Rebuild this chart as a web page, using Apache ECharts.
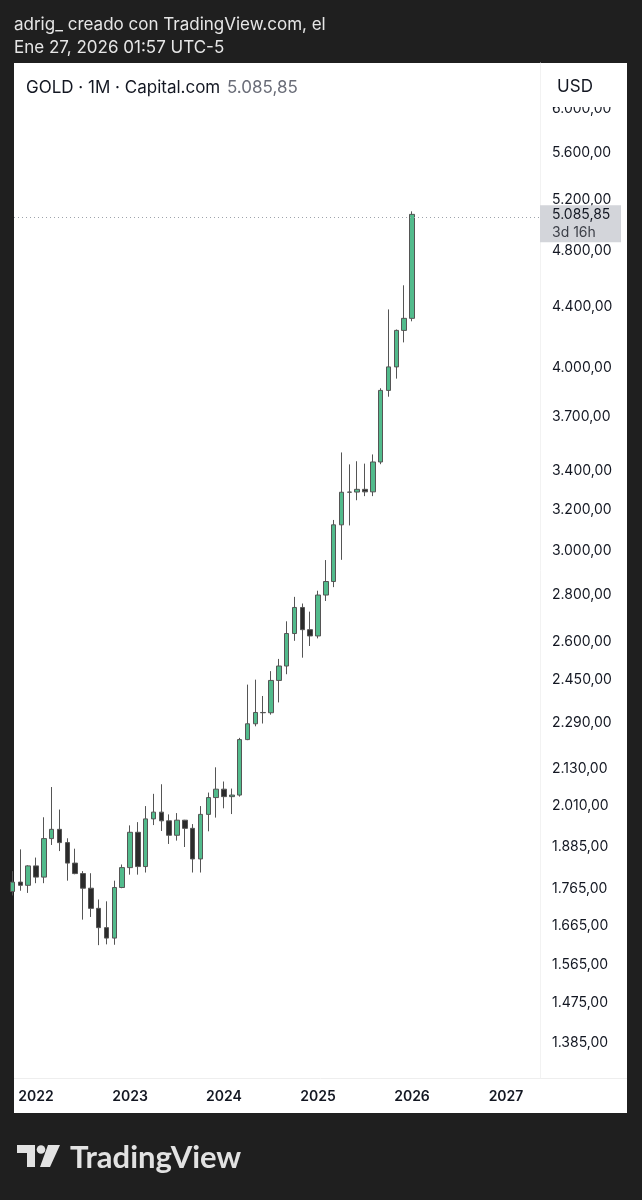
<!DOCTYPE html>
<html><head><meta charset="utf-8">
<script src="https://cdn.jsdelivr.net/npm/echarts@6/dist/echarts.min.js"></script>
<style>html,body{margin:0;padding:0;background:#1f1f1f;}#c{width:642px;height:1200px;}</style>
</head><body><div id="c"></div>
<script>
// ---- data (monthly GOLD candles) ----
const months = ['2021-10','2021-11','2021-12',
  '2022-01','2022-02','2022-03','2022-04','2022-05','2022-06','2022-07','2022-08','2022-09','2022-10','2022-11','2022-12',
  '2023-01','2023-02','2023-03','2023-04','2023-05','2023-06','2023-07','2023-08','2023-09','2023-10','2023-11','2023-12',
  '2024-01','2024-02','2024-03','2024-04','2024-05','2024-06','2024-07','2024-08','2024-09','2024-10','2024-11','2024-12',
  '2025-01','2025-02','2025-03','2025-04','2025-05','2025-06','2025-07','2025-08','2025-09','2025-10','2025-11','2025-12',
  '2026-01'];
const opens  = [1757,1783,1774, 1829,1797,1909,1937,1897,1837,1807,1766,1711,1660,1633,1768,
  1824,1928,1827,1969,1990,1963,1919,1965,1940,1849,1983,2036,
  2063,2039,2044,2230,2286,2327,2326,2447,2503,2634,2744,2650,
  2624,2798,2858,3124,3288,3289,3303,3290,3448,3858,4003,4239, 4320];
const closes = [1783,1774,1829, 1797,1909,1937,1897,1837,1807,1766,1711,1660,1633,1768,1824,
  1928,1827,1969,1990,1963,1919,1965,1940,1849,1983,2036,2063,
  2039,2044,2230,2286,2327,2326,2447,2503,2634,2744,2650,2624,
  2798,2858,3124,3288,3289,3303,3290,3448,3858,4003,4239,4320, 5085.85];
const lows   = [1746,1759,1753, 1780,1780,1890,1872,1787,1805,1681,1688,1615,1617,1616,1766,
  1804,1804,1810,1950,1932,1893,1903,1884,1810,1810,1931,1973,
  2002,1984,2039,2228,2277,2287,2319,2364,2471,2604,2536,2583,
  2614,2772,2833,2957,3121,3247,3268,3268,3436,3820,3930,4160, 4300];
const highs  = [1814,1877,1831, 1853,1974,2070,1998,1910,1879,1814,1808,1735,1730,1787,1833,
  1949,1959,2009,2048,2079,1983,1987,1966,1953,2009,2052,2135,
  2088,2065,2236,2431,2450,2388,2483,2531,2685,2790,2761,2726,
  2817,2956,3148,3500,3435,3452,3439,3489,3871,4381,4245,4550, 5110];
const priceTicks = [6000,5600,5200,4800,4400,4000,3700,3400,3200,3000,2800,2600,2450,2290,2130,2010,1885,1765,1665,1565,1475,1385];
const yearLabels = ['2022','2023','2024','2025','2026','2027'];
const lastPrice = 5085.85;
const lastPriceText = '5.085,85';
const countdownText = '3d 16h';
const headerLine1 = 'adrig_ creado con TradingView.com, el';
const headerLine2 = 'Ene 27, 2026 01:57 UTC-5';
const legendSymbol = 'GOLD · 1M · Capital.com';
const currency = 'USD';

// ---- helpers ----
const baseYear = 2022;
function monthIndex(s){ const [y,m] = s.split('-').map(Number); return (y-baseYear)*12 + (m-1); }
function fmtPrice(v){
  const parts = v.toFixed(2).split('.');
  return parts[0].replace(/\B(?=(\d{3})+(?!\d))/g, '.') + ',' + parts[1];
}
const candleData = months.map((m,i)=>[monthIndex(m), Math.log(opens[i]), Math.log(closes[i]), Math.log(lows[i]), Math.log(highs[i])]);
const FONT = 'Inter, Roboto, sans-serif';

const chart = echarts.init(document.getElementById('c'), null, {renderer:'canvas'});
const baseGraphics = [
  {type: 'rect', z: -10, shape: {x: 14, y: 63, width: 613, height: 1050}, style: {fill: '#ffffff'}},
  {type: 'line', z: -5, shape: {x1: 14, y1: 1078.5, x2: 627, y2: 1078.5}, style: {stroke: '#eeeeee', lineWidth: 1}},
  {type: 'text', x: 14, y: 25, style: {text: headerLine1, fill: '#e6e6e6', font: '17px ' + FONT, verticalAlign: 'middle'}},
  {type: 'text', x: 14, y: 48, style: {text: headerLine2, fill: '#e6e6e6', font: '17px ' + FONT, verticalAlign: 'middle'}}
];
chart.setOption({
  backgroundColor: '#1f1f1f',
  animation: false,
  grid: {left: 14, right: 102, top: 63, bottom: 122, containLabel: false},
  xAxis: {
    type: 'value', min: -2.81, max: 64.34,
    axisLine: {show: false},
    axisTick: {show: false},
    splitLine: {show: false},
    axisLabel: {
      customValues: yearLabels.map(y => (Number(y)-baseYear)*12),
      formatter: v => yearLabels[Math.round(v/12)],
      color: '#131722', fontFamily: FONT, fontSize: 14, fontWeight: 600, margin: 12
    }
  },
  yAxis: {
    type: 'value', position: 'right', scale: true,
    min: Math.log(1311), max: Math.log(6450),
    axisLine: {show: true, onZero: false, lineStyle: {color: '#f2f2f2'}},
    axisTick: {show: false},
    splitLine: {show: false},
    axisLabel: {
      customValues: priceTicks.map(Math.log),
      formatter: v => fmtPrice(Math.round(Math.exp(v))),
      color: '#131722', fontFamily: FONT, fontSize: 14, margin: 12, align: 'left'
    }
  },
  series: [{
    type: 'candlestick',
    data: candleData,
    encode: {x: 0, y: [1,2,3,4]},
    barWidth: 5,
    clip: true,
    itemStyle: {color: '#52bb8c', color0: '#2b2b2b', borderColor: '#555555', borderColor0: '#555555', borderWidth: 1},
    markLine: {
      silent: true, symbol: 'none', animation: false,
      lineStyle: {type: [1, 3], color: '#9ea3ab', width: 1},
      label: {show: false},
      data: [{yAxis: Math.log(lastPrice)}]
    }
  }],
  graphic: baseGraphics
});

// overlay elements positioned through the chart's scales
const lineY = chart.convertToPixel({yAxisIndex: 0}, Math.log(lastPrice));
chart.setOption({
  graphic: baseGraphics.concat([
    {type: 'rect', z: 50, shape: {x: 541, y: 63, width: 86, height: 44}, style: {fill: '#ffffff'}},
    {type: 'text', z: 51, x: 575, y: 87, style: {text: currency, fill: '#131722', font: '17px ' + FONT, align: 'center', verticalAlign: 'middle'}},
    {type: 'text', z: 51, x: 26, y: 88, style: {
      text: '{a|' + legendSymbol + '}  {b|' + lastPriceText + '}',
      rich: {a: {fill: '#131722', font: '17px ' + FONT}, b: {fill: '#6a6d78', font: '17px ' + FONT}},
      verticalAlign: 'middle'}},
    {type: 'rect', z: 60, shape: {x: 540, y: lineY - 9, width: 81, height: 37}, style: {fill: '#d3d5da'}},
    {type: 'text', z: 61, x: 552, y: lineY, style: {text: lastPriceText, fill: '#131722', font: '14px ' + FONT, verticalAlign: 'middle'}},
    {type: 'text', z: 61, x: 552, y: lineY + 18, style: {text: countdownText, fill: '#3c3f47', font: '14px ' + FONT, verticalAlign: 'middle'}},
    // TradingView logo
    {type: 'polygon', z: 5, shape: {points: [[17,1145],[35,1145],[35,1167],[27,1167],[27,1153],[17,1153]]}, style: {fill: '#e2e2e2'}},
    {type: 'circle', z: 5, shape: {cx: 41, cy: 1149.5, r: 4.3}, style: {fill: '#e2e2e2'}},
    {type: 'polygon', z: 5, shape: {points: [[48,1145],[60,1145],[50,1167],[40,1167]]}, style: {fill: '#e2e2e2'}},
    {type: 'text', z: 5, x: 70, y: 1158, style: {text: 'TradingView', fill: '#e2e2e2', font: 'bold 31px Lato, ' + FONT, verticalAlign: 'middle'}}
  ])
});
</script>
</body></html>
